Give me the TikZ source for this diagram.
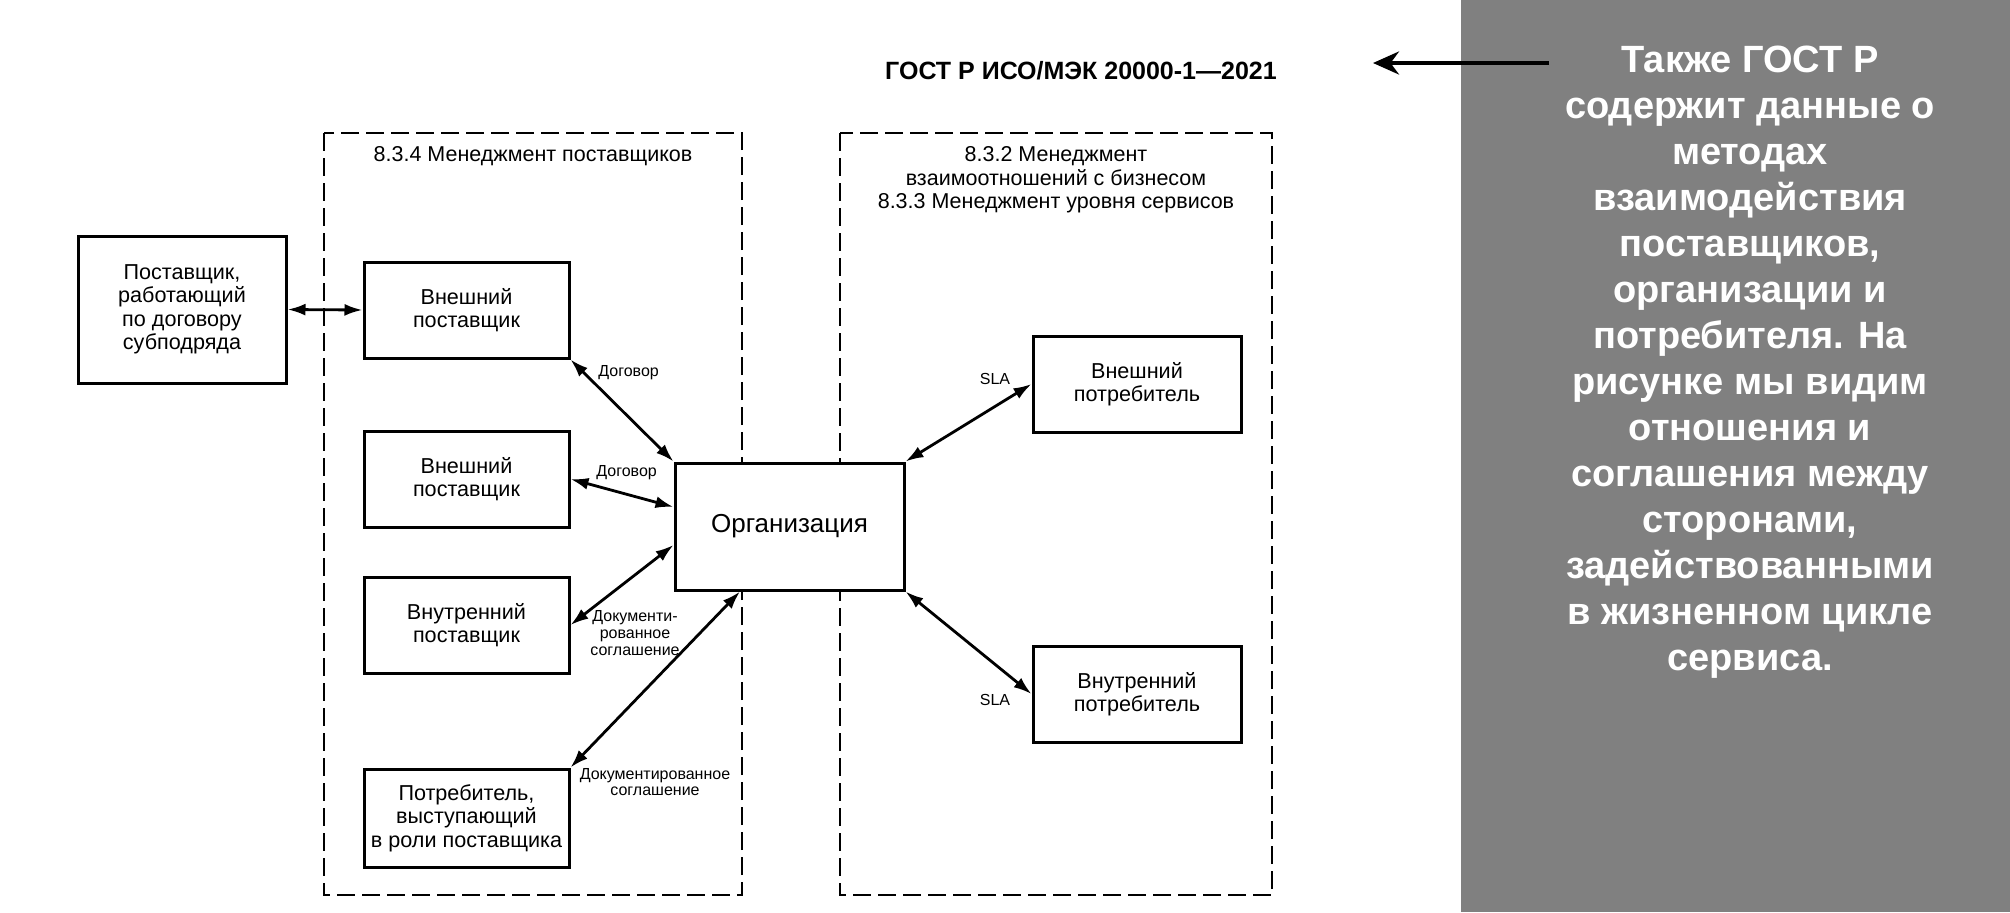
\documentclass[tikz,border=0pt]{standalone}
\usepackage{fontspec}
\setmainfont{Liberation Sans}
\usetikzlibrary{arrows.meta}
\definecolor{panelgray}{RGB}{128,128,128}

\begin{document}
\begin{tikzpicture}[x=0.5pt,y=-0.5pt,every node/.style={black},
	box/.style={draw,fill=white,line width=1.5pt,inner sep=0pt,align=center,font=\fontsize{10.8}{11.75}\selectfont},
	group/.style={line width=1pt,dash pattern=on 9pt off 3.5pt},
	title/.style={align=center,inner sep=0pt,font=\fontsize{10.75}{11.85}\selectfont},
	link/.style={line width=1.4pt,{Latex[length=9pt,width=6pt]}-{Latex[length=9pt,width=6pt]}},
	lbl/.style={align=center,inner sep=0pt,font=\fontsize{8}{8.3}\selectfont}]
	\useasboundingbox (0,0) rectangle (2010,912);

	\fill[panelgray] (1461,0) rectangle (2010,912);

	\draw[group] (324,133) rectangle (742,895);
	\draw[group] (840,133) rectangle (1272,895);

	\node[title] (t1) at (533,156) {8.3.4 Менеджмент поставщиков};
	\node[title] (t2) at (1056,180) {8.3.2 Менеджмент\\взаимоотношений с бизнесом\\8.3.3 Менеджмент уровня сервисов};

	\node[box,minimum width=104pt,minimum height=73.5pt] (sub) at (182,309.5) {Поставщик,\\работающий\\по договору\\субподряда};
	\node[box,minimum width=102.5pt,minimum height=48pt] (ext1) at (466.5,310) {Внешний\\поставщик};
	\node[box,minimum width=102.5pt,minimum height=48pt] (ext2) at (466.5,479) {Внешний\\поставщик};
	\node[box,minimum width=102.5pt,minimum height=48pt] (int) at (466.5,625) {Внутренний\\поставщик};
	\node[box,minimum width=102.5pt,minimum height=49pt] (cons) at (466.5,818) {Потребитель,\\выступающий\\в роли поставщика};
	\node[box,minimum width=114.5pt,minimum height=63.5pt,font=\fontsize{13}{15}\selectfont] (org) at (789.5,526.5) {Организация};
	\node[box,minimum width=104pt,minimum height=48pt] (extc) at (1137,384) {Внешний\\потребитель};
	\node[box,minimum width=104pt,minimum height=48pt] (intc) at (1137,694) {Внутренний\\потребитель};

	\draw[link] (sub.east) -- (ext1.west);
	\draw[link] (ext1.south east) -- (org.north west);
	\draw[link] (ext2.east) -- ([yshift=9.75pt]org.west);
	\draw[link] (int.east) -- ([yshift=-9.25pt]org.west);
	\draw[link] (cons.north east) -- ([xshift=-24.75pt]org.south);
	\draw[link] (org.north east) -- (extc.west);
	\draw[link] (org.south east) -- (intc.west);

	\node[lbl,anchor=west] (c1) at (598,373) {Договор};
	\node[lbl,anchor=west] (c2) at (596,473) {Договор};
	\node[lbl] (d1) at (635,633) {Документи-\\рованное\\соглашение};
	\node[lbl] (d2) at (655,782) {Документированное\\соглашение};
	\node[lbl] (s1) at (995,379) {SLA};
	\node[lbl] (s2) at (995,700) {SLA};

	\node[font=\bfseries\fontsize{12.5}{15}\selectfont] (hdr) at (1081,71) {ГОСТ Р ИСО/МЭК 20000-1—2021};
	\coordinate (tail) at (1549,63);
	\coordinate (tip) at (1373,63);
	\draw[line width=2pt,-{Stealth[length=13pt,width=11.5pt]}] (tail) -- (tip);

	\node[text=white,align=center,font=\bfseries\fontsize{19}{23}\selectfont] (note) at (1750,362) {Также ГОСТ Р\\содержит данные о\\методах\\взаимодействия\\поставщиков,\\организации и\\потребителя. На\\рисунке мы видим\\отношения и\\соглашения между\\сторонами,\\задействованными\\в жизненном цикле\\сервиса.};
\end{tikzpicture}
\end{document}
